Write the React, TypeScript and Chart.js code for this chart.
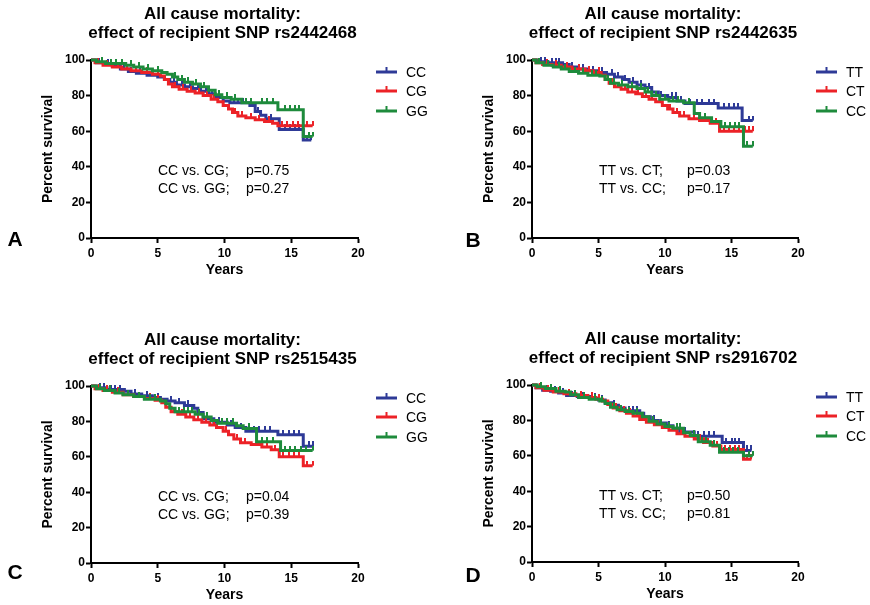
import React, { useEffect, useRef } from 'react';
import { Chart, registerables } from 'chart.js';

Chart.register(...registerables);

const FONT = '"Liberation Sans", Arial, Helvetica, sans-serif';
const BLUE = '#2E3A97';
const RED = '#EC2227';
const GREEN = '#1E8B3C';

const TITLE_LINE_1 = 'All cause mortality:';
const X_TITLE = 'Years';
const Y_TITLE = 'Percent survival';

// ---------- Panel A: rs2442468 ----------
const A_CC_T = [0, 0.4, 1.0, 1.6, 2.2, 2.8, 3.4, 4.2, 5.0, 5.5, 5.9, 6.4, 7.0, 7.6, 8.2, 8.8, 9.3, 9.9, 10.4, 11.9, 12.3, 12.7, 13.1, 14.1, 15.9];
const A_CC_S = [100, 98.5, 97.5, 96.5, 95, 93.5, 92.5, 91.5, 90.5, 89, 87.5, 86, 85, 84, 82.5, 81, 79, 77, 76, 74.5, 71, 69, 67, 61, 55];
const A_CC_C = [0.6, 1.3, 2.5, 3.0, 3.7, 4.6, 6.2, 6.8, 7.4, 8.0, 8.6, 9.1, 10.7, 11.0, 11.4, 12.5, 13.5, 14.5, 14.9, 15.3, 15.6, 16.2, 16.5];
const A_CG_T = [0, 0.3, 0.9, 1.6, 2.3, 3.0, 3.8, 4.6, 5.2, 5.5, 5.8, 6.1, 6.6, 7.2, 7.8, 8.4, 9.0, 9.5, 9.9, 10.3, 10.6, 11.0, 11.6, 12.3, 13.0, 13.6, 14.0];
const A_CG_S = [100, 98.5, 97, 96, 95, 94, 93, 92, 91, 89, 86.5, 85, 83.5, 82.5, 81.5, 80, 78, 76.5, 74.5, 72.5, 70.5, 68.5, 67.5, 66.5, 65.5, 64.5, 63];
const A_CG_C = [0.5, 1.2, 2.0, 2.7, 3.4, 4.2, 5.0, 6.3, 6.9, 7.5, 8.1, 8.7, 9.2, 10.8, 11.3, 12.0, 12.6, 13.3, 14.3, 14.7, 15.1, 15.5, 15.9, 16.2, 16.6];
const A_GG_T = [0, 0.4, 1.1, 2.6, 3.2, 3.9, 4.6, 5.3, 5.7, 6.1, 6.5, 7.0, 7.6, 8.2, 8.8, 9.3, 9.8, 10.5, 11.3, 14.0, 15.9];
const A_GG_S = [100, 99, 98, 97, 96, 95, 94, 93, 92, 90.5, 89, 87.5, 86.5, 85, 83, 80.5, 79, 78, 76, 72, 57];
const A_GG_C = [0.8, 1.5, 1.9, 2.3, 3.0, 3.6, 4.3, 5.0, 6.3, 6.8, 7.3, 7.9, 8.5, 9.6, 10.2, 10.8, 11.6, 12.0, 12.8, 13.2, 13.6, 14.5, 14.9, 15.3, 15.6, 16.3, 16.6];

// ---------- Panel B: rs2442635 ----------
const B_TT_T = [0, 0.5, 1.2, 2.3, 2.8, 3.4, 4.2, 5.0, 5.6, 6.2, 6.8, 7.3, 7.9, 8.5, 9.0, 9.5, 10.2, 10.9, 11.5, 14.0, 15.8];
const B_TT_S = [100, 99, 98.5, 97.5, 96, 95, 94, 93, 92, 90.5, 89, 87.5, 86, 84.5, 82, 80, 79, 77, 75.5, 73, 66];
const B_TT_C = [0.7, 1.0, 1.5, 1.8, 2.0, 3.0, 3.8, 4.6, 5.3, 6.0, 6.5, 7.0, 7.6, 8.2, 8.8, 9.7, 10.5, 10.8, 11.2, 11.9, 12.4, 12.8, 13.3, 13.7, 14.4, 14.8, 15.2, 15.5, 16.3, 16.6];
const B_CT_T = [0, 0.3, 0.8, 1.5, 2.2, 3.0, 4.0, 4.6, 5.2, 5.5, 5.8, 6.2, 6.7, 7.2, 7.8, 8.3, 8.8, 9.3, 9.8, 10.2, 10.6, 11.1, 11.8, 12.6, 13.4, 14.1];
const B_CT_S = [100, 98.5, 97.5, 97, 96, 95, 94, 93, 91.5, 89, 87, 85, 83.5, 82, 81, 79.5, 78, 76.5, 74.5, 72.5, 70.5, 68.5, 67, 66, 64.5, 60];
const B_CT_C = [0.5, 1.1, 1.8, 2.6, 3.5, 4.3, 5.0, 6.0, 6.5, 7.0, 7.5, 8.0, 8.6, 9.0, 9.6, 10.4, 10.9, 11.4, 12.2, 13.0, 13.8, 14.4, 14.8, 15.2, 15.6, 16.0, 16.3, 16.6];
const B_CC_T = [0, 0.3, 0.9, 1.6, 2.2, 2.8, 3.5, 4.2, 5.1, 5.5, 5.9, 6.5, 7.2, 7.9, 8.5, 9.0, 9.6, 10.3, 11.4, 12.2, 12.6, 13.5, 14.2, 15.9];
const B_CC_S = [100, 98.5, 97, 96, 95, 93.5, 92.5, 91.5, 91, 89, 87, 86, 85, 84, 82, 80, 78, 77, 76, 70, 67.5, 65.5, 62.5, 51.5];
const B_CC_C = [0.5, 1.2, 2.0, 2.5, 3.2, 3.8, 4.5, 4.8, 5.7, 6.2, 6.8, 7.5, 8.2, 8.7, 9.3, 10.0, 10.6, 11.0, 11.8, 13.0, 14.5, 14.9, 15.3, 15.6, 16.2, 16.6];

// ---------- Panel C: rs2515435 ----------
const C_CC_T = [0, 0.4, 1.2, 2.5, 3.0, 3.8, 4.6, 5.2, 5.7, 6.3, 7.0, 7.7, 8.0, 8.4, 9.2, 10.2, 10.8, 11.6, 14.0, 15.9];
const C_CC_S = [100, 99, 98, 97, 95.5, 94.5, 93.5, 92.5, 91.5, 90.5, 89, 87.5, 85, 81.5, 79.5, 78, 76.5, 74.5, 72.5, 66];
const C_CC_C = [0.7, 1.0, 1.5, 1.8, 2.2, 3.3, 4.2, 5.0, 6.0, 6.6, 7.3, 8.7, 9.6, 10.5, 11.2, 12.2, 12.6, 13.0, 13.4, 14.4, 14.8, 15.2, 15.6, 16.3, 16.6];
const C_CG_T = [0, 0.3, 0.9, 1.6, 2.4, 3.2, 4.0, 4.8, 5.3, 5.6, 6.0, 6.5, 7.1, 7.7, 8.3, 8.9, 9.4, 9.9, 10.3, 10.7, 11.2, 12.0, 12.8, 13.5, 14.1, 15.9];
const C_CG_S = [100, 98.5, 97.5, 96.5, 95, 94, 93, 92, 90.5, 88, 85.5, 84, 82.5, 81, 79.5, 78, 76.5, 74.5, 72.5, 70, 68, 67, 65.5, 64, 60, 55];
const C_CG_C = [0.6, 1.2, 2.0, 2.8, 3.6, 4.4, 5.0, 6.2, 6.8, 7.4, 8.0, 8.6, 9.2, 10.1, 10.9, 11.5, 12.4, 13.2, 13.8, 14.4, 14.8, 15.2, 15.6, 16.2, 16.6];
const C_GG_T = [0, 0.4, 1.0, 1.8, 2.4, 3.2, 4.0, 5.2, 5.6, 5.9, 6.3, 7.8, 8.4, 9.0, 9.5, 10.9, 11.4, 12.4, 14.2];
const C_GG_S = [100, 98.5, 97.5, 96, 95, 94, 92.5, 91.5, 90, 87.5, 85.5, 84, 82.5, 80.5, 79, 77.5, 76, 68.5, 63.5];
const C_GG_C = [0.7, 1.4, 2.1, 2.8, 3.6, 4.4, 4.8, 6.6, 7.0, 7.3, 7.6, 8.1, 8.7, 9.8, 10.2, 10.6, 11.8, 12.8, 13.2, 13.6, 14.5, 14.9, 15.3, 15.7, 16.1, 16.6];

// ---------- Panel D: rs2916702 ----------
const D_TT_T = [0, 0.3, 0.8, 1.4, 2.0, 2.6, 3.4, 4.4, 5.0, 5.5, 6.0, 6.5, 7.0, 8.1, 8.4, 8.9, 9.5, 10.1, 10.6, 11.1, 12.2, 14.3, 15.9];
const D_TT_S = [100, 98.5, 97, 96.5, 95.5, 94, 93.5, 92.5, 91.5, 90, 88.5, 87, 85.5, 84, 82, 80, 78.5, 77, 75.5, 73.5, 71, 67.5, 63];
const D_TT_C = [0.6, 1.1, 1.7, 2.3, 3.0, 3.8, 4.7, 5.3, 6.2, 7.3, 7.6, 7.9, 9.2, 10.3, 11.5, 12.5, 12.9, 13.3, 13.7, 14.6, 15.0, 15.3, 15.6, 16.2, 16.5];
const D_CT_T = [0, 0.3, 0.9, 1.6, 2.4, 3.3, 4.2, 4.8, 5.3, 5.7, 6.1, 6.6, 7.1, 7.6, 8.1, 8.6, 9.2, 9.8, 10.3, 10.9, 11.5, 12.2, 12.9, 13.6, 14.2, 15.9];
const D_CT_S = [100, 98.5, 97, 96, 95, 94, 93, 92, 91, 89, 87, 85.5, 84, 82.5, 80.5, 79, 77.5, 76, 74.5, 72.5, 71, 69.5, 67.5, 65.5, 63.5, 58];
const D_CT_C = [0.6, 1.2, 2.0, 2.8, 3.7, 4.5, 5.0, 6.3, 6.9, 7.4, 7.9, 8.3, 9.5, 10.6, 11.2, 11.9, 12.6, 13.2, 13.9, 14.5, 14.9, 15.3, 15.6, 16.2, 16.5];
const D_CC_T = [0, 0.4, 1.0, 1.8, 2.5, 2.9, 3.5, 4.3, 5.1, 5.5, 5.9, 6.4, 7.0, 7.6, 8.3, 8.8, 9.4, 10.0, 10.6, 11.4, 11.9, 12.5, 13.4, 14.1, 15.9];
const D_CC_S = [100, 99, 98, 96.5, 96, 94.5, 93, 92, 91, 89.5, 87.5, 86, 85, 84, 82, 79.5, 78, 76.5, 75.5, 73, 71.5, 68, 66, 62, 60];
const D_CC_C = [0.7, 1.4, 2.1, 3.2, 3.9, 4.7, 5.3, 6.2, 6.7, 7.3, 7.9, 9.1, 9.7, 10.3, 10.9, 11.1, 12.2, 12.8, 13.1, 13.7, 14.4, 14.8, 15.1, 15.5, 16.3, 16.6];

type Series = { label: string; color: string; t: number[]; s: number[]; c: number[] };
type PanelCfg = {
  key: string;
  left: number; top: number; w: number; h: number;
  pad: { left: number; right: number; top: number; bottom: number };
  title2: string;
  letter: string; letterX: number; letterY: number;
  cmp: [string, string][];
  series: Series[];
};

const PANELS: PanelCfg[] = [
  {
    key: 'A', left: 0, top: 0, w: 435, h: 300,
    pad: { left: 40, right: 77, top: 60, bottom: 21 },
    title2: 'effect of recipient SNP rs2442468',
    letter: 'A', letterX: 15, letterY: 240,
    cmp: [['CC vs. CG;', 'p=0.75'], ['CC vs. GG;', 'p=0.27']],
    series: [
      { label: 'CC', color: BLUE, t: A_CC_T, s: A_CC_S, c: A_CC_C },
      { label: 'CG', color: RED, t: A_CG_T, s: A_CG_S, c: A_CG_C },
      { label: 'GG', color: GREEN, t: A_GG_T, s: A_GG_S, c: A_GG_C },
    ],
  },
  {
    key: 'B', left: 435, top: 0, w: 435, h: 300,
    pad: { left: 46, right: 72, top: 60, bottom: 21 },
    title2: 'effect of recipient SNP rs2442635',
    letter: 'B', letterX: 38, letterY: 241,
    cmp: [['TT vs. CT;', 'p=0.03'], ['TT vs. CC;', 'p=0.17']],
    series: [
      { label: 'TT', color: BLUE, t: B_TT_T, s: B_TT_S, c: B_TT_C },
      { label: 'CT', color: RED, t: B_CT_T, s: B_CT_S, c: B_CT_C },
      { label: 'CC', color: GREEN, t: B_CC_T, s: B_CC_S, c: B_CC_C },
    ],
  },
  {
    key: 'C', left: 0, top: 300, w: 435, h: 305,
    pad: { left: 40, right: 77, top: 86, bottom: 1 },
    title2: 'effect of recipient SNP rs2515435',
    letter: 'C', letterX: 15, letterY: 273,
    cmp: [['CC vs. CG;', 'p=0.04'], ['CC vs. GG;', 'p=0.39']],
    series: [
      { label: 'CC', color: BLUE, t: C_CC_T, s: C_CC_S, c: C_CC_C },
      { label: 'CG', color: RED, t: C_CG_T, s: C_CG_S, c: C_CG_C },
      { label: 'GG', color: GREEN, t: C_GG_T, s: C_GG_S, c: C_GG_C },
    ],
  },
  {
    key: 'D', left: 435, top: 300, w: 435, h: 305,
    pad: { left: 46, right: 72, top: 85, bottom: 2 },
    title2: 'effect of recipient SNP rs2916702',
    letter: 'D', letterX: 38, letterY: 276,
    cmp: [['TT vs. CT;', 'p=0.50'], ['TT vs. CC;', 'p=0.81']],
    series: [
      { label: 'TT', color: BLUE, t: D_TT_T, s: D_TT_S, c: D_TT_C },
      { label: 'CT', color: RED, t: D_CT_T, s: D_CT_S, c: D_CT_C },
      { label: 'CC', color: GREEN, t: D_CC_T, s: D_CC_S, c: D_CC_C },
    ],
  },
];

const LINE_W = 3;

function buildPoints(t: number[], s: number[], c: number[]) {
  const pts: { x: number; y: number; cens: boolean }[] = [];
  t.forEach((x, i) => pts.push({ x, y: s[i], cens: false }));
  c.forEach((x) => {
    let y = s[0];
    for (let i = 0; i < t.length; i++) if (t[i] <= x) y = s[i];
    pts.push({ x, y, cens: true });
  });
  pts.sort((a, b) => a.x - b.x || (a.cens ? 1 : 0) - (b.cens ? 1 : 0));
  return pts;
}

function tickImage(color: string) {
  const cv = document.createElement('canvas');
  cv.width = 2;
  cv.height = 10;
  const g = cv.getContext('2d')!;
  g.fillStyle = color;
  g.fillRect(0, 0, 2, 5);
  return cv;
}

function makeDecor(p: PanelCfg) {
  return {
    id: 'kmDecor' + p.key,
    afterDraw(chart: any) {
      const { ctx, chartArea: a } = chart;
      ctx.save();
      ctx.fillStyle = '#000';
      ctx.textBaseline = 'middle';
      // title
      ctx.textAlign = 'center';
      ctx.font = `bold 17px ${FONT}`;
      const cx = (a.left + a.right) / 2 - 2;
      ctx.fillText(TITLE_LINE_1, cx, a.top - 46);
      ctx.fillText(p.title2, cx, a.top - 27);
      // legend
      const rows = [12, 31, 51];
      p.series.forEach((s, i) => {
        const y = a.top + rows[i];
        const x0 = a.right + 18;
        const x1 = a.right + 39;
        ctx.strokeStyle = s.color;
        ctx.lineWidth = LINE_W;
        ctx.beginPath();
        ctx.moveTo(x0, y);
        ctx.lineTo(x1, y);
        ctx.stroke();
        ctx.fillStyle = s.color;
        ctx.fillRect((x0 + x1) / 2 - 1, y - 5, 2, 5);
        ctx.fillStyle = '#000';
        ctx.textAlign = 'left';
        ctx.font = `14px ${FONT}`;
        ctx.fillText(s.label, a.right + 48, y + 1);
      });
      // comparisons
      ctx.textAlign = 'left';
      ctx.font = `14px ${FONT}`;
      p.cmp.forEach((row, i) => {
        const y = a.top + 111 + i * 18;
        ctx.fillText(row[0], a.left + 67, y);
        ctx.fillText(row[1], a.left + 155, y);
      });
      // panel letter
      ctx.textAlign = 'center';
      ctx.font = `bold 21px ${FONT}`;
      ctx.fillText(p.letter, p.letterX, p.letterY);
      ctx.restore();
    },
  };
}

function fixScale(size: number, horizontal: boolean) {
  return (scale: any) => {
    if (horizontal) scale.height = size;
    else scale.width = size;
    scale.paddingTop = 0;
    scale.paddingBottom = 0;
    scale.paddingLeft = 0;
    scale.paddingRight = 0;
  };
}

function axisCommon() {
  return {
    grid: {
      display: true,
      drawOnChartArea: false,
      drawTicks: true,
      tickLength: 5,
      tickWidth: 2,
      tickColor: '#000',
    },
    border: { display: true, color: '#000', width: 2 },
  };
}

function Panel({ p }: { p: PanelCfg }) {
  const ref = useRef<HTMLCanvasElement | null>(null);
  useEffect(() => {
    if (!ref.current) return;
    const n = p.series.length;
    const datasets = p.series.map((s, i) => {
      const img = tickImage(s.color);
      return {
        label: s.label,
        data: buildPoints(s.t, s.s, s.c),
        borderColor: s.color,
        backgroundColor: s.color,
        borderWidth: LINE_W,
        stepped: true,
        fill: false,
        tension: 0,
        clip: false as any,
        order: n - 1 - i,
        pointStyle: img as any,
        pointRadius: (ctx: any) => (ctx.raw && ctx.raw.cens ? 3 : 0),
        pointHoverRadius: 0,
        pointHitRadius: 0,
      };
    });
    const chart = new Chart(ref.current, {
      type: 'line',
      data: { datasets },
      plugins: [makeDecor(p)],
      options: {
        animation: false,
        responsive: false,
        devicePixelRatio: 1,
        events: [],
        layout: { padding: p.pad, autoPadding: false } as any,
        plugins: {
          legend: { display: false },
          title: { display: false },
          tooltip: { enabled: false },
        },
        scales: {
          x: {
            type: 'linear',
            min: 0,
            max: 20,
            ...axisCommon(),
            ticks: {
              stepSize: 5,
              color: '#000',
              padding: 3,
              font: { family: FONT, size: 12, weight: 'bold' },
            },
            title: {
              display: true,
              text: X_TITLE,
              color: '#000',
              padding: { top: 0, bottom: 0 },
              font: { family: FONT, size: 14, weight: 'bold' },
            },
            afterFit: fixScale(41, true),
          } as any,
          y: {
            type: 'linear',
            min: 0,
            max: 100,
            ...axisCommon(),
            ticks: {
              stepSize: 20,
              color: '#000',
              padding: 1,
              font: { family: FONT, size: 12, weight: 'bold' },
            },
            title: {
              display: true,
              text: Y_TITLE,
              color: '#000',
              padding: { top: 0, bottom: 0 },
              font: { family: FONT, size: 14, weight: 'bold' },
            },
            afterFit: fixScale(51, false),
          } as any,
        },
      },
    });
    return () => chart.destroy();
  }, [p]);
  return (
    <canvas
      ref={ref}
      width={p.w}
      height={p.h}
      style={{ position: 'absolute', left: p.left, top: p.top, width: p.w, height: p.h, display: 'block' }}
    />
  );
}

export default function App() {
  return (
    <div style={{ position: 'absolute', left: 0, top: 0, width: 870, height: 605, background: '#fff', overflow: 'hidden' }}>
      {PANELS.map((p) => (
        <Panel key={p.key} p={p} />
      ))}
    </div>
  );
}
